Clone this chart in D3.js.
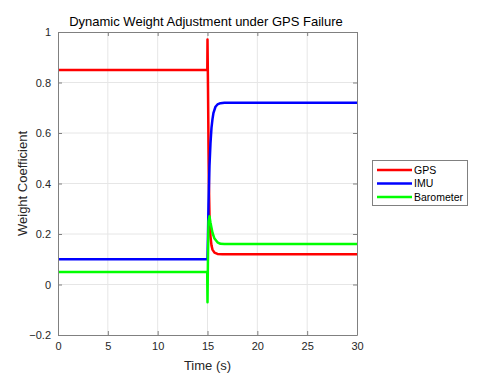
<!DOCTYPE html>
<html>
<head>
<meta charset="utf-8">
<script src="https://cdn.jsdelivr.net/npm/d3@7"></script>
<style>
  body { margin: 0; background: #fff; }
  svg { display: block; font-family: 'Liberation Sans', Arial, sans-serif; }
  .grid line { stroke: #e6e6e6; stroke-width: 1; }
  .axis text { fill: #262626; font-size: 11px; }
  .axis path, .axis line { stroke: #808080; }
</style>
</head>
<body>
<div id="container"></div>
<script>
// data
const gpsTime = [0, 14.98, 15.0, 15.05, 15.1, 15.15, 15.2, 15.3, 15.4, 15.5, 15.7, 16.0, 16.5, 30]
const gpsVal = [0.85, 0.85, 0.97, 0.78, 0.55, 0.38, 0.27, 0.19, 0.155, 0.138, 0.126, 0.121, 0.12, 0.12]

const imuTime = [0, 15.0, 15.05, 15.1, 15.2, 15.3, 15.4, 15.5, 15.6, 15.8, 16.0, 16.3, 16.7, 30]
const imuVal = [0.1, 0.1, 0.2, 0.32, 0.47, 0.56, 0.62, 0.655, 0.68, 0.704, 0.713, 0.718, 0.72, 0.72]

const baroTime = [0, 14.97, 15.0, 15.05, 15.1, 15.2, 15.3, 15.5, 15.7, 16.0, 16.3, 16.7, 30]
const baroVal = [0.05, 0.05, -0.07, 0.12, 0.25, 0.27, 0.245, 0.205, 0.182, 0.167, 0.161, 0.16, 0.16]

const xTicks = [0, 5, 10, 15, 20, 25, 30]
const yTicks = [-0.2, 0, 0.2, 0.4, 0.6, 0.8, 1]

const seriesNames = ['GPS', 'IMU', 'Barometer']
const seriesColors = ['#ff0000', '#0000ff', '#00ff00']

function chartIt() {
  var w = 480
  var h = 387
  var left = 58, right = 357, top = 32, bottom = 335

  const series = [
    { name: seriesNames[0], color: seriesColors[0], t: gpsTime, v: gpsVal },
    { name: seriesNames[1], color: seriesColors[1], t: imuTime, v: imuVal },
    { name: seriesNames[2], color: seriesColors[2], t: baroTime, v: baroVal }
  ]

  const xScale = d3.scaleLinear().domain([0, 30]).range([left, right])
  const yScale = d3.scaleLinear().domain([-0.2, 1]).range([bottom, top])

  var svg = d3.select('div#container')
    .append('svg')
    .attr('width', w)
    .attr('height', h)

  // grid
  const grid = svg.append('g').attr('class', 'grid')
  grid.selectAll('.gx')
    .data(xTicks.slice(1, -1))
    .enter().append('line')
    .attr('x1', d => xScale(d)).attr('x2', d => xScale(d))
    .attr('y1', top).attr('y2', bottom)
  grid.selectAll('.gy')
    .data(yTicks.slice(1, -1))
    .enter().append('line')
    .attr('y1', d => yScale(d)).attr('y2', d => yScale(d))
    .attr('x1', left).attr('x2', right)

  // lines
  const line = d3.line()
    .x(d => xScale(d[0]))
    .y(d => yScale(d[1]))

  svg.selectAll('.series')
    .data(series)
    .enter().append('path')
    .attr('class', 'series')
    .attr('fill', 'none')
    .attr('stroke', d => d.color)
    .attr('stroke-width', 2.5)
    .attr('stroke-linejoin', 'round')
    .attr('d', d => line(d.t.map((t, i) => [t, d.v[i]])))

  // axes (ticks pointing inward, like the original)
  const xAxis = d3.axisBottom(xScale).tickValues(xTicks).tickSizeInner(-4).tickSizeOuter(0).tickPadding(7)
  svg.append('g')
    .attr('class', 'axis')
    .attr('transform', 'translate(0,' + bottom + ')')
    .call(xAxis)

  svg.append('g')
    .attr('class', 'axis')
    .attr('transform', 'translate(0,' + top + ')')
    .call(d3.axisTop(xScale).tickValues(xTicks).tickSizeInner(-4).tickSizeOuter(0).tickFormat(''))

  const yAxis = d3.axisLeft(yScale).tickValues(yTicks).tickSizeInner(-4).tickSizeOuter(0).tickPadding(7)
    .tickFormat(d3.format('~g'))
  svg.append('g')
    .attr('class', 'axis')
    .attr('transform', 'translate(' + left + ',0)')
    .call(yAxis)

  svg.append('g')
    .attr('class', 'axis')
    .attr('transform', 'translate(' + right + ',0)')
    .call(d3.axisRight(yScale).tickValues(yTicks).tickSizeInner(-4).tickSizeOuter(0).tickFormat(''))

  // title & labels
  svg.append('text')
    .attr('x', 206)
    .attr('y', 26)
    .attr('text-anchor', 'middle')
    .style('font-size', '13px')
    .attr('fill', '#000')
    .text('Dynamic Weight Adjustment under GPS Failure')

  svg.append('text')
    .attr('x', (left + right) / 2)
    .attr('y', 370)
    .attr('text-anchor', 'middle')
    .style('font-size', '13px')
    .attr('fill', '#262626')
    .text('Time (s)')

  svg.append('text')
    .attr('transform', 'rotate(-90)')
    .attr('x', -(top + bottom) / 2)
    .attr('y', 27)
    .attr('text-anchor', 'middle')
    .style('font-size', '13px')
    .attr('fill', '#262626')
    .text('Weight Coefficient')

  // legend
  var legend = svg.append('g').attr('id', 'legend')
  legend.append('rect')
    .attr('x', 372.5).attr('y', 160.5)
    .attr('width', 95).attr('height', 45)
    .attr('fill', '#fff')
    .attr('stroke', '#808080')

  series.forEach((s, i) => {
    const yy = 170 + i * 13.5
    legend.append('line')
      .attr('x1', 377).attr('x2', 412)
      .attr('y1', yy).attr('y2', yy)
      .attr('stroke', s.color)
      .attr('stroke-width', 2.5)
    legend.append('text')
      .attr('x', 414).attr('y', yy)
      .attr('dy', '0.35em')
      .style('font-size', '10.5px')
      .attr('fill', '#000')
      .text(s.name)
  })
}

chartIt()
</script>
</body>
</html>
